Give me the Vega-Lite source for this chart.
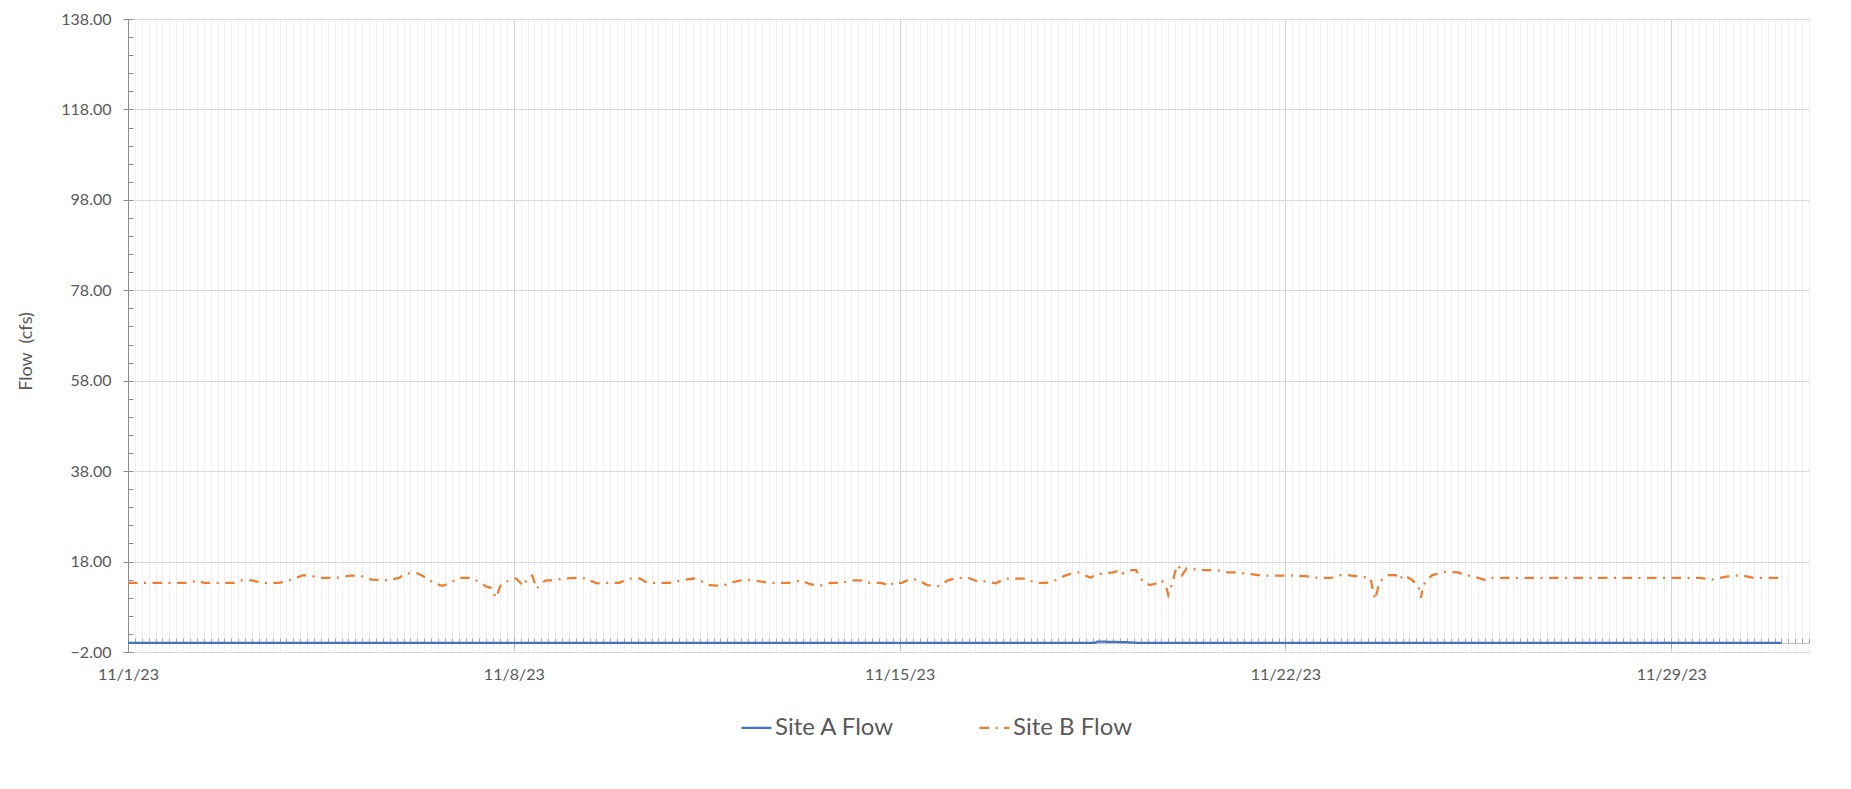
{
  "$schema": "https://vega.github.io/schema/vega-lite/v6.json",
  "width": 1681,
  "height": 633,
  "autosize": {"type": "none"},
  "padding": {"left": 128, "top": 19, "right": 42, "bottom": 137},
  "background": "white",
  "data": {
    "values": [
      {"t": "2023-11-01T00:00", "site": "Site A Flow", "flow": 0.0},
      {"t": "2023-11-18T13:00", "site": "Site A Flow", "flow": 0.0},
      {"t": "2023-11-18T14:00", "site": "Site A Flow", "flow": 0.3},
      {"t": "2023-11-18T20:00", "site": "Site A Flow", "flow": 0.25},
      {"t": "2023-11-19T04:00", "site": "Site A Flow", "flow": 0.15},
      {"t": "2023-11-19T08:00", "site": "Site A Flow", "flow": 0.0},
      {"t": "2023-12-01T00:00", "site": "Site A Flow", "flow": 0.0},
      {"t": "2023-11-01T00:00", "site": "Site B Flow", "flow": 13.3},
      {"t": "2023-11-02T03:00", "site": "Site B Flow", "flow": 13.3},
      {"t": "2023-11-02T06:00", "site": "Site B Flow", "flow": 13.85},
      {"t": "2023-11-02T09:00", "site": "Site B Flow", "flow": 13.3},
      {"t": "2023-11-02T22:00", "site": "Site B Flow", "flow": 13.3},
      {"t": "2023-11-03T01:00", "site": "Site B Flow", "flow": 13.85},
      {"t": "2023-11-03T06:00", "site": "Site B Flow", "flow": 13.85},
      {"t": "2023-11-03T10:00", "site": "Site B Flow", "flow": 13.3},
      {"t": "2023-11-03T18:00", "site": "Site B Flow", "flow": 13.3},
      {"t": "2023-11-03T22:00", "site": "Site B Flow", "flow": 13.85},
      {"t": "2023-11-04T01:00", "site": "Site B Flow", "flow": 14.4},
      {"t": "2023-11-04T04:00", "site": "Site B Flow", "flow": 14.95},
      {"t": "2023-11-04T07:00", "site": "Site B Flow", "flow": 14.95},
      {"t": "2023-11-04T11:00", "site": "Site B Flow", "flow": 14.4},
      {"t": "2023-11-04T18:00", "site": "Site B Flow", "flow": 14.4},
      {"t": "2023-11-05T01:00", "site": "Site B Flow", "flow": 14.9},
      {"t": "2023-11-05T05:00", "site": "Site B Flow", "flow": 14.9},
      {"t": "2023-11-05T10:00", "site": "Site B Flow", "flow": 14.0},
      {"t": "2023-11-05T17:00", "site": "Site B Flow", "flow": 13.85},
      {"t": "2023-11-05T22:00", "site": "Site B Flow", "flow": 14.4},
      {"t": "2023-11-06T01:00", "site": "Site B Flow", "flow": 15.4},
      {"t": "2023-11-06T06:00", "site": "Site B Flow", "flow": 15.4},
      {"t": "2023-11-06T08:00", "site": "Site B Flow", "flow": 14.9},
      {"t": "2023-11-06T11:00", "site": "Site B Flow", "flow": 14.1},
      {"t": "2023-11-06T13:00", "site": "Site B Flow", "flow": 13.2},
      {"t": "2023-11-06T17:00", "site": "Site B Flow", "flow": 12.65},
      {"t": "2023-11-06T20:00", "site": "Site B Flow", "flow": 13.2},
      {"t": "2023-11-07T00:00", "site": "Site B Flow", "flow": 14.4},
      {"t": "2023-11-07T05:00", "site": "Site B Flow", "flow": 14.4},
      {"t": "2023-11-07T09:00", "site": "Site B Flow", "flow": 13.5},
      {"t": "2023-11-07T12:00", "site": "Site B Flow", "flow": 12.45},
      {"t": "2023-11-07T14:00", "site": "Site B Flow", "flow": 12.2},
      {"t": "2023-11-07T15:00", "site": "Site B Flow", "flow": 11.5},
      {"t": "2023-11-07T16:00", "site": "Site B Flow", "flow": 10.0},
      {"t": "2023-11-07T17:00", "site": "Site B Flow", "flow": 11.0},
      {"t": "2023-11-07T18:00", "site": "Site B Flow", "flow": 12.5},
      {"t": "2023-11-07T19:00", "site": "Site B Flow", "flow": 13.2},
      {"t": "2023-11-07T22:00", "site": "Site B Flow", "flow": 13.85},
      {"t": "2023-11-08T01:00", "site": "Site B Flow", "flow": 14.25},
      {"t": "2023-11-08T03:00", "site": "Site B Flow", "flow": 13.2},
      {"t": "2023-11-08T04:00", "site": "Site B Flow", "flow": 12.6},
      {"t": "2023-11-08T06:00", "site": "Site B Flow", "flow": 14.25},
      {"t": "2023-11-08T08:00", "site": "Site B Flow", "flow": 14.9},
      {"t": "2023-11-08T10:00", "site": "Site B Flow", "flow": 12.0},
      {"t": "2023-11-08T12:00", "site": "Site B Flow", "flow": 13.2},
      {"t": "2023-11-08T14:00", "site": "Site B Flow", "flow": 13.85},
      {"t": "2023-11-08T17:00", "site": "Site B Flow", "flow": 13.85},
      {"t": "2023-11-08T22:00", "site": "Site B Flow", "flow": 14.25},
      {"t": "2023-11-09T03:00", "site": "Site B Flow", "flow": 14.4},
      {"t": "2023-11-09T08:00", "site": "Site B Flow", "flow": 14.25},
      {"t": "2023-11-09T09:00", "site": "Site B Flow", "flow": 13.85},
      {"t": "2023-11-09T12:00", "site": "Site B Flow", "flow": 13.2},
      {"t": "2023-11-09T18:00", "site": "Site B Flow", "flow": 13.3},
      {"t": "2023-11-09T22:00", "site": "Site B Flow", "flow": 13.3},
      {"t": "2023-11-10T02:00", "site": "Site B Flow", "flow": 14.25},
      {"t": "2023-11-10T07:00", "site": "Site B Flow", "flow": 14.25},
      {"t": "2023-11-10T10:00", "site": "Site B Flow", "flow": 13.3},
      {"t": "2023-11-10T21:00", "site": "Site B Flow", "flow": 13.3},
      {"t": "2023-11-11T01:00", "site": "Site B Flow", "flow": 13.85},
      {"t": "2023-11-11T06:00", "site": "Site B Flow", "flow": 14.25},
      {"t": "2023-11-11T10:00", "site": "Site B Flow", "flow": 13.6},
      {"t": "2023-11-11T13:00", "site": "Site B Flow", "flow": 12.8},
      {"t": "2023-11-11T19:00", "site": "Site B Flow", "flow": 12.6},
      {"t": "2023-11-11T22:00", "site": "Site B Flow", "flow": 13.3},
      {"t": "2023-11-12T03:00", "site": "Site B Flow", "flow": 13.85},
      {"t": "2023-11-12T08:00", "site": "Site B Flow", "flow": 13.9},
      {"t": "2023-11-12T15:00", "site": "Site B Flow", "flow": 13.3},
      {"t": "2023-11-13T00:00", "site": "Site B Flow", "flow": 13.3},
      {"t": "2023-11-13T05:00", "site": "Site B Flow", "flow": 13.85},
      {"t": "2023-11-13T09:00", "site": "Site B Flow", "flow": 13.0},
      {"t": "2023-11-13T13:00", "site": "Site B Flow", "flow": 12.6},
      {"t": "2023-11-13T18:00", "site": "Site B Flow", "flow": 13.3},
      {"t": "2023-11-13T23:00", "site": "Site B Flow", "flow": 13.3},
      {"t": "2023-11-14T03:00", "site": "Site B Flow", "flow": 13.85},
      {"t": "2023-11-14T07:00", "site": "Site B Flow", "flow": 13.85},
      {"t": "2023-11-14T11:00", "site": "Site B Flow", "flow": 13.3},
      {"t": "2023-11-14T16:00", "site": "Site B Flow", "flow": 13.3},
      {"t": "2023-11-14T20:00", "site": "Site B Flow", "flow": 12.6},
      {"t": "2023-11-14T21:00", "site": "Site B Flow", "flow": 13.3},
      {"t": "2023-11-15T01:00", "site": "Site B Flow", "flow": 13.3},
      {"t": "2023-11-15T05:00", "site": "Site B Flow", "flow": 14.25},
      {"t": "2023-11-15T08:00", "site": "Site B Flow", "flow": 13.85},
      {"t": "2023-11-15T12:00", "site": "Site B Flow", "flow": 12.8},
      {"t": "2023-11-15T17:00", "site": "Site B Flow", "flow": 12.6},
      {"t": "2023-11-15T21:00", "site": "Site B Flow", "flow": 13.85},
      {"t": "2023-11-16T01:00", "site": "Site B Flow", "flow": 14.4},
      {"t": "2023-11-16T06:00", "site": "Site B Flow", "flow": 14.4},
      {"t": "2023-11-16T10:00", "site": "Site B Flow", "flow": 13.6},
      {"t": "2023-11-16T13:00", "site": "Site B Flow", "flow": 13.6},
      {"t": "2023-11-16T18:00", "site": "Site B Flow", "flow": 13.2},
      {"t": "2023-11-16T22:00", "site": "Site B Flow", "flow": 14.25},
      {"t": "2023-11-17T07:00", "site": "Site B Flow", "flow": 14.25},
      {"t": "2023-11-17T11:00", "site": "Site B Flow", "flow": 13.3},
      {"t": "2023-11-17T16:00", "site": "Site B Flow", "flow": 13.3},
      {"t": "2023-11-17T20:00", "site": "Site B Flow", "flow": 13.9},
      {"t": "2023-11-18T00:00", "site": "Site B Flow", "flow": 14.9},
      {"t": "2023-11-18T03:00", "site": "Site B Flow", "flow": 15.4},
      {"t": "2023-11-18T06:00", "site": "Site B Flow", "flow": 15.6},
      {"t": "2023-11-18T09:00", "site": "Site B Flow", "flow": 14.9},
      {"t": "2023-11-18T11:00", "site": "Site B Flow", "flow": 14.4},
      {"t": "2023-11-18T14:00", "site": "Site B Flow", "flow": 15.2},
      {"t": "2023-11-18T17:00", "site": "Site B Flow", "flow": 15.4},
      {"t": "2023-11-18T21:00", "site": "Site B Flow", "flow": 15.6},
      {"t": "2023-11-19T00:00", "site": "Site B Flow", "flow": 16.1},
      {"t": "2023-11-19T01:00", "site": "Site B Flow", "flow": 15.4},
      {"t": "2023-11-19T05:00", "site": "Site B Flow", "flow": 16.1},
      {"t": "2023-11-19T07:00", "site": "Site B Flow", "flow": 16.1},
      {"t": "2023-11-19T10:00", "site": "Site B Flow", "flow": 13.5},
      {"t": "2023-11-19T13:00", "site": "Site B Flow", "flow": 12.8},
      {"t": "2023-11-19T16:00", "site": "Site B Flow", "flow": 13.2},
      {"t": "2023-11-19T18:00", "site": "Site B Flow", "flow": 13.9},
      {"t": "2023-11-19T20:00", "site": "Site B Flow", "flow": 12.5},
      {"t": "2023-11-19T21:00", "site": "Site B Flow", "flow": 10.6},
      {"t": "2023-11-19T23:00", "site": "Site B Flow", "flow": 13.6},
      {"t": "2023-11-20T00:00", "site": "Site B Flow", "flow": 15.8},
      {"t": "2023-11-20T01:00", "site": "Site B Flow", "flow": 17.2},
      {"t": "2023-11-20T02:00", "site": "Site B Flow", "flow": 16.6},
      {"t": "2023-11-20T03:00", "site": "Site B Flow", "flow": 15.0},
      {"t": "2023-11-20T05:00", "site": "Site B Flow", "flow": 16.5},
      {"t": "2023-11-20T06:00", "site": "Site B Flow", "flow": 16.5},
      {"t": "2023-11-20T11:00", "site": "Site B Flow", "flow": 16.1},
      {"t": "2023-11-20T18:00", "site": "Site B Flow", "flow": 16.1},
      {"t": "2023-11-20T23:00", "site": "Site B Flow", "flow": 15.6},
      {"t": "2023-11-21T03:00", "site": "Site B Flow", "flow": 15.6},
      {"t": "2023-11-21T09:00", "site": "Site B Flow", "flow": 15.2},
      {"t": "2023-11-21T14:00", "site": "Site B Flow", "flow": 14.9},
      {"t": "2023-11-22T05:00", "site": "Site B Flow", "flow": 14.9},
      {"t": "2023-11-22T10:00", "site": "Site B Flow", "flow": 14.7},
      {"t": "2023-11-22T14:00", "site": "Site B Flow", "flow": 14.4},
      {"t": "2023-11-22T20:00", "site": "Site B Flow", "flow": 14.4},
      {"t": "2023-11-23T00:00", "site": "Site B Flow", "flow": 15.0},
      {"t": "2023-11-23T03:00", "site": "Site B Flow", "flow": 15.0},
      {"t": "2023-11-23T08:00", "site": "Site B Flow", "flow": 14.7},
      {"t": "2023-11-23T13:00", "site": "Site B Flow", "flow": 14.4},
      {"t": "2023-11-23T14:00", "site": "Site B Flow", "flow": 12.0},
      {"t": "2023-11-23T15:00", "site": "Site B Flow", "flow": 9.6},
      {"t": "2023-11-23T16:00", "site": "Site B Flow", "flow": 11.5},
      {"t": "2023-11-23T17:00", "site": "Site B Flow", "flow": 13.6},
      {"t": "2023-11-23T21:00", "site": "Site B Flow", "flow": 15.0},
      {"t": "2023-11-24T00:00", "site": "Site B Flow", "flow": 15.0},
      {"t": "2023-11-24T02:00", "site": "Site B Flow", "flow": 14.0},
      {"t": "2023-11-24T03:00", "site": "Site B Flow", "flow": 15.0},
      {"t": "2023-11-24T05:00", "site": "Site B Flow", "flow": 14.6},
      {"t": "2023-11-24T07:00", "site": "Site B Flow", "flow": 14.0},
      {"t": "2023-11-24T08:00", "site": "Site B Flow", "flow": 13.5},
      {"t": "2023-11-24T10:00", "site": "Site B Flow", "flow": 12.5},
      {"t": "2023-11-24T11:00", "site": "Site B Flow", "flow": 10.0},
      {"t": "2023-11-24T12:00", "site": "Site B Flow", "flow": 12.8},
      {"t": "2023-11-24T14:00", "site": "Site B Flow", "flow": 14.1},
      {"t": "2023-11-24T16:00", "site": "Site B Flow", "flow": 15.0},
      {"t": "2023-11-24T22:00", "site": "Site B Flow", "flow": 15.8},
      {"t": "2023-11-25T03:00", "site": "Site B Flow", "flow": 15.6},
      {"t": "2023-11-25T07:00", "site": "Site B Flow", "flow": 15.0},
      {"t": "2023-11-25T12:00", "site": "Site B Flow", "flow": 14.4},
      {"t": "2023-11-25T15:00", "site": "Site B Flow", "flow": 13.9},
      {"t": "2023-11-25T18:00", "site": "Site B Flow", "flow": 14.4},
      {"t": "2023-11-26T18:00", "site": "Site B Flow", "flow": 14.4},
      {"t": "2023-11-29T13:00", "site": "Site B Flow", "flow": 14.4},
      {"t": "2023-11-29T17:00", "site": "Site B Flow", "flow": 13.9},
      {"t": "2023-11-29T21:00", "site": "Site B Flow", "flow": 14.4},
      {"t": "2023-11-30T03:00", "site": "Site B Flow", "flow": 14.9},
      {"t": "2023-11-30T07:00", "site": "Site B Flow", "flow": 14.9},
      {"t": "2023-11-30T12:00", "site": "Site B Flow", "flow": 14.4},
      {"t": "2023-12-01T00:00", "site": "Site B Flow", "flow": 14.4}
    ]
  },
  "layer": [
    {
      "mark": {"type": "line", "strokeWidth": 2.25, "strokeCap": "butt"},
      "encoding": {
        "x": {
          "field": "t", "type": "temporal",
          "scale": {"domain": [{"year": 2023, "month": 11, "date": 1, "hours": 0}, {"year": 2023, "month": 12, "date": 1, "hours": 12}], "nice": false},
          "axis": {
            "orient": "bottom",
            "title": null,
            "tickCount": 244,
            "labels": false,
            "ticks": false,
            "domain": false,
            "grid": true,
            "gridColor": "#efefef"
          }
        },
        "y": {
          "field": "flow", "type": "quantitative",
          "scale": {"domain": [-2, 138], "nice": false, "zero": false},
          "axis": {
            "orient": "left",
            "title": null,
            "values": [-2, 2, 6, 10, 14, 18, 22, 26, 30, 34, 38, 42, 46, 50, 54, 58, 62, 66, 70, 74, 78, 82, 86, 90, 94, 98, 102, 106, 110, 114, 118, 122, 126, 130, 134, 138],
            "labels": false,
            "grid": false,
            "tickSize": -5,
            "tickColor": "#8c8c8c",
            "domain": true,
            "domainColor": "#8c8c8c"
          }
        },
        "color": {
          "field": "site", "type": "nominal",
          "scale": {"domain": ["Site A Flow", "Site B Flow"], "range": ["#4472C4", "#ED7D31"]},
          "legend": {"title": null, "orient": "none", "legendX": 612, "legendY": 692, "direction": "horizontal"}
        },
        "strokeDash": {
          "field": "site", "type": "nominal",
          "scale": {"domain": ["Site A Flow", "Site B Flow"], "range": [[1, 0], [9.5, 6.5, 2, 6.5]]},
          "legend": {"title": null, "orient": "none", "legendX": 612, "legendY": 692, "direction": "horizontal"}
        }
      }
    },
    {
      "transform": [{"filter": "datum.site === 'Site A Flow'"}],
      "mark": {"type": "line", "opacity": 0},
      "encoding": {
        "x": {
          "field": "t", "type": "temporal",
          "scale": {"domain": [{"year": 2023, "month": 11, "date": 1, "hours": 0}, {"year": 2023, "month": 12, "date": 1, "hours": 12}], "nice": false},
          "axis": {
            "orient": "bottom",
            "title": null,
            "values": [
              {"year": 2023, "month": 11, "date": 1},
              {"year": 2023, "month": 11, "date": 8},
              {"year": 2023, "month": 11, "date": 15},
              {"year": 2023, "month": 11, "date": 22},
              {"year": 2023, "month": 11, "date": 29}
            ],
            "format": "%-m/%-d/%y",
            "labelFlush": false,
            "labelOverlap": false,
            "labelFontSize": 16,
            "labelPadding": 14,
            "ticks": false,
            "domain": false,
            "grid": true,
            "gridColor": "#d4d4d4"
          }
        },
        "y": {
          "field": "flow", "type": "quantitative",
          "scale": {"domain": [-2, 138], "nice": false, "zero": false},
          "axis": {
            "orient": "left",
            "values": [-2, 18, 38, 58, 78, 98, 118, 138],
            "format": ".2f",
            "labelFontSize": 16,
            "labelPadding": 12,
            "domain": false,
            "grid": true,
            "gridColor": "#d9d9d9",
            "tickSize": 5,
            "tickColor": "#8c8c8c",
            "title": "Flow \u00a0(cfs)",
            "titleFontSize": 18,
            "titleFontWeight": "normal",
            "titlePadding": 25,
            "titleY": 332
          }
        }
      }
    },
    {
      "transform": [{"filter": "datum.site === 'Site A Flow'"}],
      "mark": {"type": "line", "opacity": 0},
      "encoding": {
        "x": {
          "field": "t", "type": "temporal",
          "scale": {"domain": [{"year": 2023, "month": 11, "date": 1, "hours": 0}, {"year": 2023, "month": 12, "date": 1, "hours": 12}], "nice": false},
          "axis": {
            "orient": "bottom",
            "title": null,
            "tickCount": 244,
            "labels": false,
            "grid": false,
            "domain": true,
            "domainColor": "#bfbfbf",
            "tickSize": -5,
            "tickColor": "#a6a6a6",
            "offset": -9
          }
        },
        "y": {
          "field": "flow", "type": "quantitative",
          "scale": {"domain": [-2, 138], "nice": false, "zero": false},
          "axis": null
        }
      }
    },
    {
      "transform": [{"filter": "datum.site === 'Site A Flow'"}],
      "mark": {"type": "line", "opacity": 0},
      "encoding": {
        "x": {
          "field": "t", "type": "temporal",
          "scale": {"domain": [{"year": 2023, "month": 11, "date": 1, "hours": 0}, {"year": 2023, "month": 12, "date": 1, "hours": 12}], "nice": false},
          "axis": {
            "orient": "bottom",
            "title": null,
            "values": [
              {"year": 2023, "month": 11, "date": 1},
              {"year": 2023, "month": 11, "date": 8},
              {"year": 2023, "month": 11, "date": 15},
              {"year": 2023, "month": 11, "date": 22},
              {"year": 2023, "month": 11, "date": 29}
            ],
            "labels": false,
            "grid": false,
            "domain": false,
            "tickSize": 5,
            "tickColor": "#a6a6a6",
            "offset": -9
          }
        },
        "y": {
          "field": "flow", "type": "quantitative",
          "scale": {"domain": [-2, 138], "nice": false, "zero": false},
          "axis": null
        }
      }
    }
  ],
  "resolve": {"axis": {"x": "independent", "y": "independent"}},
  "config": {
    "view": {"stroke": null},
    "axis": {"labelFont": "Lato", "titleFont": "Lato", "labelColor": "#595959", "titleColor": "#595959"},
    "legend": {
      "labelFont": "Lato",
      "labelFontSize": 24,
      "labelColor": "#595959",
      "symbolType": "stroke",
      "symbolSize": 900,
      "symbolStrokeWidth": 2.25,
      "columnPadding": 80,
      "labelOffset": 2
    }
  }
}
